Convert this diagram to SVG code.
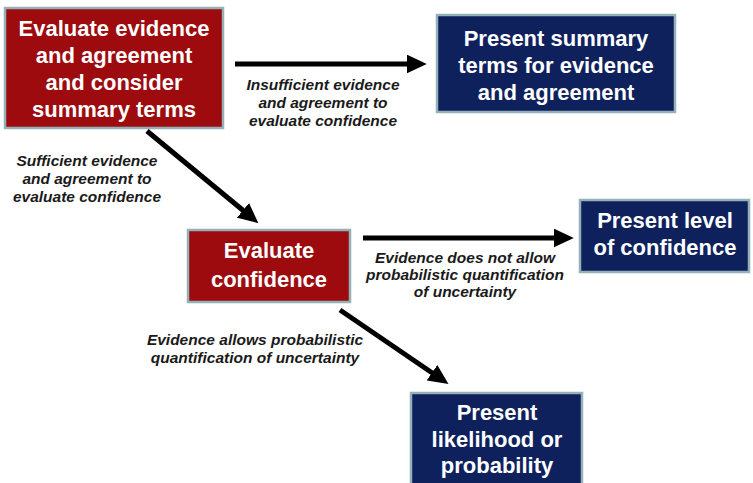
<svg xmlns="http://www.w3.org/2000/svg" width="753" height="483" viewBox="0 0 753 483">
  <style>
    .red { fill: #9d0b0f; stroke: #93b1b6; stroke-width: 2.5; }
    .blue { fill: #0f215d; stroke: #93b1b6; stroke-width: 2.5; }
    .title { font-family: "Liberation Sans", Arial, sans-serif; font-weight: bold; font-size: 22px; fill: #ffffff; text-anchor: middle; }
    .lbl { font-family: "Liberation Sans", Arial, sans-serif; font-weight: bold; font-style: italic; font-size: 15.5px; fill: #1a1a1a; text-anchor: middle; }
    .conn { stroke: #000000; stroke-width: 5; fill: none; }
  </style>
  <defs>
    <marker id="ah" markerUnits="userSpaceOnUse" markerWidth="20" markerHeight="19" refX="2" refY="8.5" orient="auto" viewBox="0 0 18 17">
      <path d="M0,0 L18,8.5 L0,17 z" fill="#000000"/>
    </marker>
  </defs>
  <rect width="753" height="483" fill="#ffffff"/>

  <g id="n1">
    <rect class="red" x="5" y="8" width="218" height="120"/>
    <text class="title" x="114" y="36">Evaluate evidence</text>
    <text class="title" x="114" y="63">and agreement</text>
    <text class="title" x="114" y="90">and consider</text>
    <text class="title" x="114" y="117">summary terms</text>
  </g>
  <g id="n2">
    <rect class="blue" x="437" y="15" width="238" height="97"/>
    <text class="title" x="556" y="46">Present summary</text>
    <text class="title" x="556" y="73">terms for evidence</text>
    <text class="title" x="556" y="100">and agreement</text>
  </g>
  <g id="n3">
    <rect class="red" x="188" y="230" width="162" height="72"/>
    <text class="title" x="269" y="258">Evaluate</text>
    <text class="title" x="269" y="287">confidence</text>
  </g>
  <g id="n4">
    <rect class="blue" x="580" y="200" width="169" height="72"/>
    <text class="title" x="665" y="228">Present level</text>
    <text class="title" x="665" y="255">of confidence</text>
  </g>
  <g id="n5">
    <rect class="blue" x="411" y="393" width="171" height="100"/>
    <text class="title" x="497" y="420">Present</text>
    <text class="title" x="497" y="447">likelihood or</text>
    <text class="title" x="497" y="473">probability</text>
  </g>

  <g id="connectors">
    <line class="conn" x1="235" y1="64" x2="409" y2="64" marker-end="url(#ah)"/>
    <line class="conn" x1="147" y1="131" x2="244.7" y2="211.8" marker-end="url(#ah)"/>
    <line class="conn" x1="363" y1="238" x2="556" y2="238" marker-end="url(#ah)"/>
    <line class="conn" x1="340" y1="310" x2="433.8" y2="374" marker-end="url(#ah)"/>
  </g>

  <g id="labels">
    <text class="lbl" x="323" y="90">Insufficient evidence</text>
    <text class="lbl" x="323" y="108">and agreement to</text>
    <text class="lbl" x="323" y="126">evaluate confidence</text>

    <text class="lbl" x="87" y="166">Sufficient evidence</text>
    <text class="lbl" x="87" y="184">and agreement to</text>
    <text class="lbl" x="87" y="202">evaluate confidence</text>

    <text class="lbl" x="465" y="263">Evidence does not allow</text>
    <text class="lbl" x="465" y="280">probabilistic quantification</text>
    <text class="lbl" x="465" y="297">of uncertainty</text>

    <text class="lbl" x="255" y="345">Evidence allows probabilistic</text>
    <text class="lbl" x="255" y="363">quantification of uncertainty</text>
  </g>
</svg>
